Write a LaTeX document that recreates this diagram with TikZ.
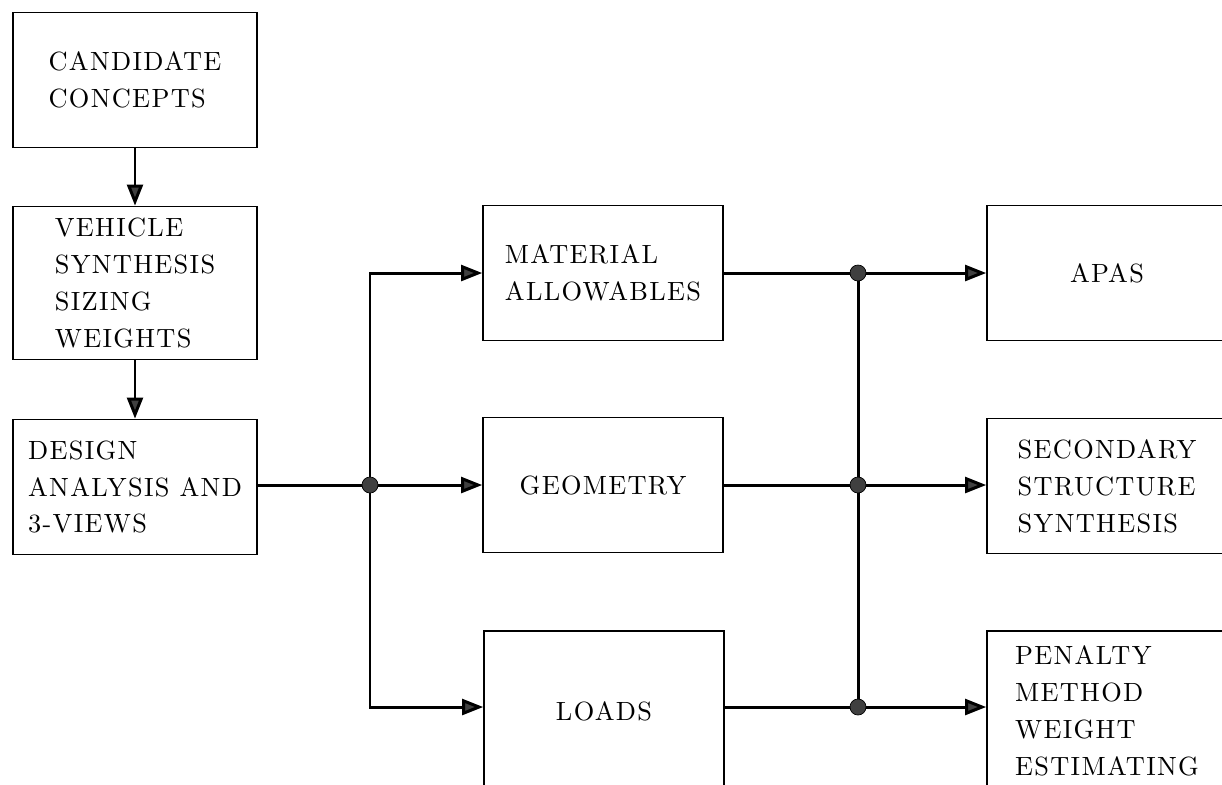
\documentclass[tikz,border=0pt]{standalone}
\usepackage{fontspec}
\usepackage{tikz}
\usetikzlibrary{arrows.meta,positioning}
\newfontfamily\boxfont{lmroman10-regular.otf}[LetterSpace=5]

\begin{document}
\begin{tikzpicture}[
  x=0.2mm, y=-0.2mm,
  blk/.style={rectangle, draw, line width=0.9pt, minimum width=4.8cm, minimum height=2.7cm, align=left, inner sep=0pt,
    font=\boxfont\fontsize{15}{21}\selectfont},
  tallblk/.style={blk, minimum height=3.2cm},
  arrow/.style={-{Triangle[length=12pt,width=9pt,fill=black!75]}, line width=1.7pt},
  wire/.style={line width=1.7pt},
  dot/.style={circle, fill=black!75, draw=black, inner sep=0pt, minimum size=3.2mm}
]
\useasboundingbox (0,0) rectangle (1222,784);
\clip (0,0) rectangle (1222,784);
\node[blk, minimum width=4.88cm] (cand) at (135,80) {CANDIDATE\\CONCEPTS};
\node[blk, minimum width=4.88cm, minimum height=3.06cm] (veh) at (135,283) {VEHICLE\\SYNTHESIS\\SIZING\\WEIGHTS};
\node[blk, minimum width=4.88cm] (des) at (135,487) {DESIGN\\ANALYSIS AND\\3-VIEWS};
\node[blk] (mat) at (603,273) {MATERIAL\\ALLOWABLES};
\node[blk] (geo) at (603,485) {GEOMETRY};
\node[tallblk] (loads) at (604,711) {LOADS};
\node[blk] (apas) at (1107,273) {APAS};
\node[blk] (sec) at (1107,486) {SECONDARY\\STRUCTURE\\SYNTHESIS};
\node[tallblk] (pen) at (1107,711) {PENALTY\\METHOD\\WEIGHT\\ESTIMATING};
\coordinate (jl) at (370,485);
\coordinate (jr1) at (858,273);
\coordinate (jr2) at (858,485);
\coordinate (jr3) at (858,707);
\draw[arrow] (cand) -- (veh);
\draw[arrow] (veh) -- (des);
\draw[wire] (des.east |- jl) -- (jl);
\draw[arrow] (jl) |- (mat.west |- jr1);
\draw[arrow] (jl) -- (geo.west |- jl);
\draw[arrow] (jl) |- (loads.west |- jr3);
\draw[arrow] (mat.east |- jr1) -- (apas.west |- jr1);
\draw[arrow] (geo.east |- jr2) -- (sec.west |- jr2);
\draw[arrow] (loads.east |- jr3) -- (pen.west |- jr3);
\draw[wire] (jr1) -- (jr3);
\node[dot] at (jl) {};
\node[dot] at (jr1) {};
\node[dot] at (jr2) {};
\node[dot] at (jr3) {};
\end{tikzpicture}
\end{document}
